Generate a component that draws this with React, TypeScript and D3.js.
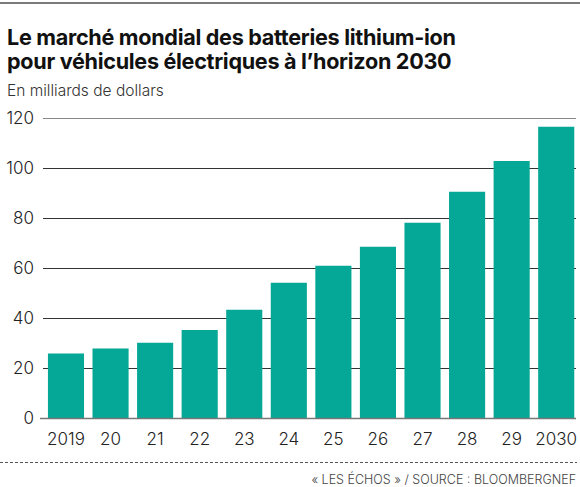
import React from "react";
import * as d3 from "d3";

const years = ["2019", "20", "21", "22", "23", "24", "25", "26", "27", "28", "29", "2030"];
const values = [26, 28, 30.3, 35.4, 43.5, 54.3, 61.1, 68.7, 78.3, 90.7, 103, 116.7];
const yTicks = [0, 20, 40, 60, 80, 100, 120];

const W = 580;
const H = 487;

export default function App() {
  const y = d3.scaleLinear().domain([0, 120]).range([418.5, 118.5]);
  const x = d3
    .scaleBand<string>()
    .domain(years)
    .range([43.7, 578.5])
    .paddingInner(0.19)
    .paddingOuter(0.095);
  const font = "Inter, 'Noto Sans', sans-serif";
  return (
    <svg
      width={W}
      height={H}
      style={{ position: "absolute", left: 0, top: 0, background: "#fff" }}
      fontFamily={font}
    >
      <line x1={0} x2={580} y1={3} y2={3} stroke="#7a7a7a" strokeWidth={2} />
      <text x={7} y={45} fontSize={21.6} fontWeight={700} fill="#111" letterSpacing={-0.3}>
        Le marché mondial des batteries lithium-ion
      </text>
      <text x={7} y={69} fontSize={21.6} fontWeight={700} fill="#111" letterSpacing={-0.3}>
        pour véhicules électriques à l’horizon 2030
      </text>
      <text x={7} y={96} fontSize={15.5} fontWeight={300} fill="#333">
        En milliards de dollars
      </text>
      {yTicks.map((t) => (
        <g key={t}>
          {t > 0 && (
            <line
              x1={43}
              x2={576}
              y1={y(t)}
              y2={y(t)}
              stroke={t === 120 ? "#888" : "#333"}
              strokeWidth={1}
            />
          )}
          <text
            x={34}
            y={y(t)}
            dy="0.35em"
            textAnchor="end"
            fontSize={17}
            fontWeight={300}
            fill="#222"
          >
            {t}
          </text>
        </g>
      ))}
      {years.map((yr, i) => (
        <rect
          key={yr}
          x={x(yr)}
          y={y(values[i])}
          width={x.bandwidth()}
          height={y(0) - y(values[i])}
          fill="#05a796"
        />
      ))}
      <line x1={40} x2={576} y1={y(0)} y2={y(0)} stroke="#777" strokeWidth={1.5} />
      {years.map((yr) => (
        <text
          key={yr}
          x={(x(yr) as number) + x.bandwidth() / 2}
          y={445}
          textAnchor="middle"
          fontSize={17}
          fontWeight={300}
          fill="#222"
        >
          {yr}
        </text>
      ))}
      <line
        x1={0}
        x2={577}
        y1={462.5}
        y2={462.5}
        stroke="#555"
        strokeWidth={1}
        strokeDasharray="3,2"
      />
      <text x={576} y={484} textAnchor="end" fontSize={12.5} fontWeight={300} fill="#444">
        « LES ÉCHOS » / SOURCE : BLOOMBERGNEF
      </text>
    </svg>
  );
}
